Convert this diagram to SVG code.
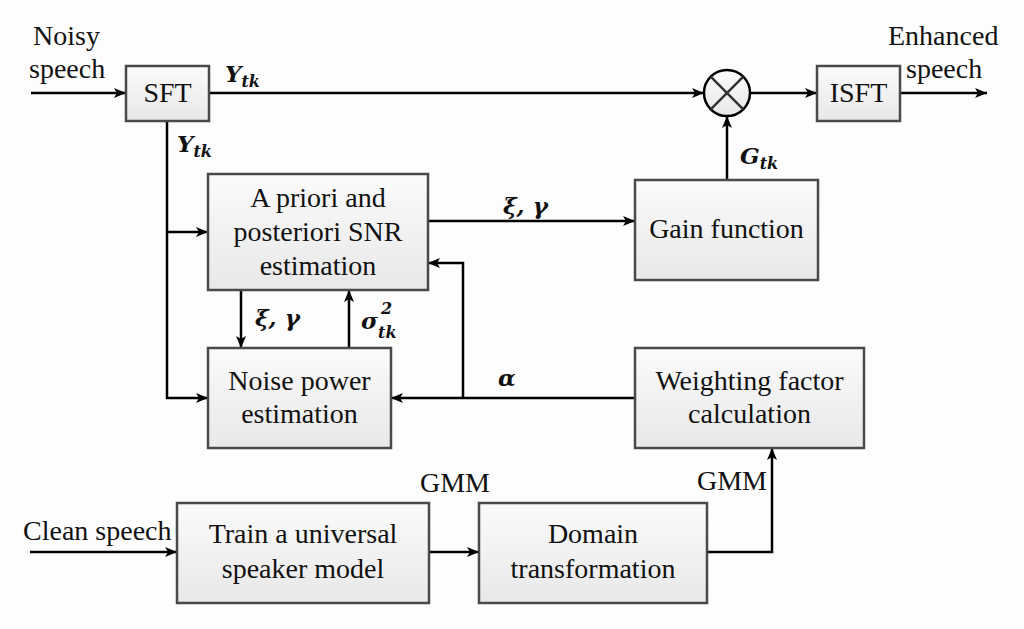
<svg xmlns="http://www.w3.org/2000/svg" width="1024" height="629" viewBox="0 0 1024 629">
<defs>
<linearGradient id="bg" x1="0" y1="0" x2="0" y2="1">
<stop offset="0" stop-color="#fbfbfb"/>
<stop offset="1" stop-color="#e8e8e8"/>
</linearGradient>
<marker id="ar" markerUnits="userSpaceOnUse" markerWidth="14" markerHeight="12" refX="12" refY="6" orient="auto">
<path d="M0,1 L12,6 L0,11 L3,6 z" fill="#000"/>
</marker>
<style>
.box{fill:url(#bg);stroke:#4a4a4a;stroke-width:2.5}
.t{font-family:"Liberation Serif","Times New Roman",serif;font-size:28px;fill:#111;text-anchor:middle}
.l{font-family:"Liberation Serif","Times New Roman",serif;font-size:28px;fill:#111}
.m{font-family:"DejaVu Serif","Liberation Serif",serif;font-style:italic;font-weight:bold;font-size:23px;fill:#111}
.s{font-size:16px}
.c{fill:none;stroke:#000;stroke-width:2.5}
</style>
</defs>
<rect width="1024" height="629" fill="#fdfdfd"/>
<g id="connectors">
<path class="c" d="M31,93 H126" marker-end="url(#ar)"/>
<path class="c" d="M209,93 H704" marker-end="url(#ar)"/>
<path class="c" d="M750,93 H817" marker-end="url(#ar)"/>
<path class="c" d="M900,93 H987" marker-end="url(#ar)"/>
<path class="c" d="M727,180 V116" marker-end="url(#ar)"/>
<path class="c" d="M167,121 V398 H208" marker-end="url(#ar)"/>
<path class="c" d="M167,232 H208" marker-end="url(#ar)"/>
<path class="c" d="M428,221 H635" marker-end="url(#ar)"/>
<path class="c" d="M241,290 V348" marker-end="url(#ar)"/>
<path class="c" d="M349,348 V290" marker-end="url(#ar)"/>
<path class="c" d="M635,398 H391" marker-end="url(#ar)"/>
<path class="c" d="M463,398 V263 H428" marker-end="url(#ar)"/>
<path class="c" d="M30,552 H177" marker-end="url(#ar)"/>
<path class="c" d="M429,552 H479" marker-end="url(#ar)"/>
<path class="c" d="M707,552 H772 V448" marker-end="url(#ar)"/>
</g>
<g id="labels">
<text class="l" x="33" y="45">Noisy</text>
<text class="l" x="29" y="78">speech</text>
<text class="l" x="888" y="45">Enhanced</text>
<text class="l" x="906" y="78">speech</text>
<text class="l" x="23" y="540">Clean speech</text>
<text class="l" x="420" y="492">GMM</text>
<text class="l" x="697" y="490">GMM</text>
<text class="m" x="225" y="82">Y<tspan class="s" dy="5">tk</tspan></text>
<text class="m" x="177" y="152">Y<tspan class="s" dy="5">tk</tspan></text>
<text class="m" x="740" y="164">G<tspan class="s" dy="5">tk</tspan></text>
<text class="m" x="503" y="214">ξ, γ</text>
<text class="m" x="255" y="326">ξ, γ</text>
<text class="m" x="361" y="329">σ</text>
<text class="m s" x="381" y="314">2</text>
<text class="m s" x="378" y="338">tk</text>
<text class="m" x="498" y="386">α</text>
</g>
<g id="sft"><rect class="box" x="126" y="66" width="83" height="55"/><text class="t" x="167.5" y="102">SFT</text></g>
<g id="mult"><circle cx="727" cy="93" r="23" fill="url(#bg)" stroke="#000" stroke-width="2.5"/><path d="M710.7,76.7 L743.3,109.3 M743.3,76.7 L710.7,109.3" stroke="#333" stroke-width="2.5"/></g>
<g id="isft"><rect class="box" x="817" y="66" width="83" height="55"/><text class="t" x="858.5" y="102">ISFT</text></g>
<g id="snr"><rect class="box" x="208" y="174" width="220" height="116"/><text class="t" x="318" y="207">A priori and</text><text class="t" x="318" y="241">posteriori SNR</text><text class="t" x="318" y="275">estimation</text></g>
<g id="gain"><rect class="box" x="635" y="180" width="183" height="100"/><text class="t" x="726.5" y="238">Gain function</text></g>
<g id="noise"><rect class="box" x="208" y="348" width="183" height="100"/><text class="t" x="299.5" y="390">Noise power</text><text class="t" x="299.5" y="423">estimation</text></g>
<g id="weight"><rect class="box" x="635" y="348" width="229" height="100"/><text class="t" x="749.5" y="390">Weighting factor</text><text class="t" x="749.5" y="423">calculation</text></g>
<g id="train"><rect class="box" x="177" y="503" width="252" height="100"/><text class="t" x="303" y="543">Train a universal</text><text class="t" x="303" y="578">speaker model</text></g>
<g id="domain"><rect class="box" x="479" y="503" width="228" height="100"/><text class="t" x="593" y="543">Domain</text><text class="t" x="593" y="578">transformation</text></g>
</svg>
